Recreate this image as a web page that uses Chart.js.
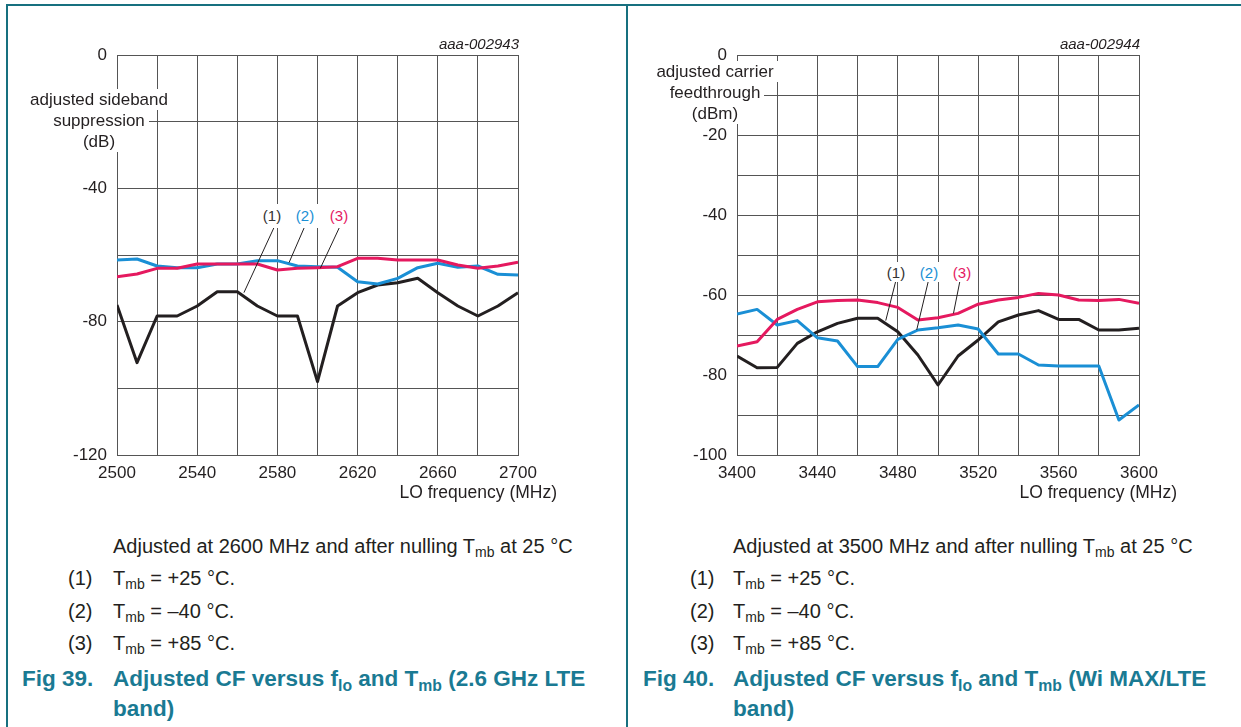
<!DOCTYPE html>
<html>
<head>
<meta charset="utf-8">
<script src="https://cdn.jsdelivr.net/npm/chart.js@4.4.0/dist/chart.umd.min.js"></script>
<style>
  html, body { margin: 0; padding: 0; background: #fff; }
  body { width: 1241px; height: 727px; position: relative; overflow: hidden; font-family: 'Liberation Sans', Arial, sans-serif; color: #231f20; }
  .vline { position: absolute; width: 2px; background: #17707f; }
  .hline { position: absolute; height: 2px; background: #17707f; }
  canvas { position: absolute; }
  .ytitle { position: absolute; font-size: 17px; line-height: 21px; text-align: center; }
  .ytitle span { display: block; width: fit-content; margin: 0 auto; background: #fff; padding: 0 4px; }
  .code { position: absolute; font-size: 15px; font-style: italic; text-align: right; line-height: 18px; }
  .xtitle { position: absolute; font-size: 17.5px; text-align: right; line-height: 20px; }
  .lblbox { position: absolute; background: #fff; }
  .lbl { position: absolute; font-size: 15px; line-height: 18px; transform: translate(-50%, -50%); white-space: nowrap; }
  .cap { position: absolute; font-size: 20px; line-height: 22px; white-space: nowrap; }
  .cap sub, .fig sub { font-size: 0.7em; vertical-align: -0.3em; line-height: 0; }
  .fig { position: absolute; font-size: 22.5px; font-weight: bold; color: #1a7a93; line-height: 30px; white-space: nowrap; }
</style>
</head>
<body>
<div class="hline" style="left:6px; top:4px; width:1235px;"></div>
<div class="vline" style="left:6px; top:4px; height:723px;"></div>
<div class="vline" style="left:626px; top:4px; height:723px;"></div>

<canvas id="c1" width="620" height="500" style="left:0px; top:0px;"></canvas>
<canvas id="c2" width="600" height="500" style="left:627px; top:0px;"></canvas>

<div class="ytitle" style="left:0px; top:89px; width:198px;"><span>adjusted sideband</span><span>suppression</span><span>(dB)</span></div>
<div class="ytitle" style="left:615px; top:61px; width:200px;"><span>adjusted carrier</span><span>feedthrough</span><span>(dBm)</span></div>

<div class="code" style="left:400px; top:35px; width:119px;">aaa-002943</div>
<div class="code" style="left:1020px; top:35px; width:120px;">aaa-002944</div>

<div class="xtitle" style="left:357px; top:482px; width:200px;">LO frequency (MHz)</div>
<div class="xtitle" style="left:977px; top:482px; width:200px;">LO frequency (MHz)</div>

<div class="lblbox" style="left:262px; top:204px; width:88px; height:24px;"></div>
<div class="lbl" style="left:272px; top:216px; color:#333;">(1)</div>
<div class="lbl" style="left:305px; top:216px; color:#1a8fd5;">(2)</div>
<div class="lbl" style="left:339px; top:216px; color:#e5195f;">(3)</div>

<div class="lblbox" style="left:885px; top:262px; width:87px; height:20px;"></div>
<div class="lbl" style="left:896px; top:273px; color:#333;">(1)</div>
<div class="lbl" style="left:929px; top:273px; color:#1a8fd5;">(2)</div>
<div class="lbl" style="left:962px; top:273px; color:#e5195f;">(3)</div>

<div class="cap" style="left:113px; top:535px;">Adjusted at 2600 MHz and after nulling T<sub>mb</sub> at 25 °C</div>
<div class="cap" style="left:68px; top:567px;">(1)</div><div class="cap" style="left:113px; top:567px;">T<sub>mb</sub> = +25 °C.</div>
<div class="cap" style="left:68px; top:600px;">(2)</div><div class="cap" style="left:113px; top:600px;">T<sub>mb</sub> = –40 °C.</div>
<div class="cap" style="left:68px; top:632px;">(3)</div><div class="cap" style="left:113px; top:632px;">T<sub>mb</sub> = +85 °C.</div>
<div class="fig" style="left:22px; top:664px;">Fig 39.</div>
<div class="fig" style="left:113px; top:664px;">Adjusted CF versus f<sub>lo</sub> and T<sub>mb</sub> (2.6 GHz LTE<br>band)</div>

<div class="cap" style="left:733px; top:535px;">Adjusted at 3500 MHz and after nulling T<sub>mb</sub> at 25 °C</div>
<div class="cap" style="left:690px; top:567px;">(1)</div><div class="cap" style="left:733px; top:567px;">T<sub>mb</sub> = +25 °C.</div>
<div class="cap" style="left:690px; top:600px;">(2)</div><div class="cap" style="left:733px; top:600px;">T<sub>mb</sub> = –40 °C.</div>
<div class="cap" style="left:690px; top:632px;">(3)</div><div class="cap" style="left:733px; top:632px;">T<sub>mb</sub> = +85 °C.</div>
<div class="fig" style="left:643px; top:664px;">Fig 40.</div>
<div class="fig" style="left:733px; top:664px;">Adjusted CF versus f<sub>lo</sub> and T<sub>mb</sub> (Wi MAX/LTE<br>band)</div>

<script>
// ---- Fig 39 data (2.6 GHz LTE band) ----
const freq1 = [2500, 2510, 2520, 2530, 2540, 2550, 2560, 2570, 2580, 2590, 2600, 2610, 2620, 2630, 2640, 2650, 2660, 2670, 2680, 2690, 2700];
const sb_p25 = [-75, -92.3, -78.3, -78.3, -75.3, -71, -71, -75.3, -78.3, -78.3, -98, -75.3, -71.3, -69, -68.3, -67, -71.3, -75.3, -78.3, -75.3, -71.3];
const sb_m40 = [-61.5, -61.2, -63.3, -63.8, -63.8, -62.7, -62.7, -61.7, -61.7, -63.3, -63.5, -63.7, -68, -68.7, -67, -63.8, -62.5, -63.7, -63.3, -65.8, -66];
const sb_p85 = [-66.5, -65.7, -64, -64, -62.7, -62.7, -62.7, -62.7, -64.5, -64, -63.8, -63.5, -61, -61, -61.5, -61.5, -61.5, -63, -64, -63.3, -62.2];
const xTicks1 = [2500, 2540, 2580, 2620, 2660, 2700];
const yTicks1 = [0, -40, -80, -120];
const leaders1 = [
  { from: [2578.2, -51.9], to: [2563.3, -71.3] },
  { from: [2593.3, -51.9], to: [2585.8, -62.3] },
  { from: [2610.8, -51.9], to: [2601.4, -64.0] }
];

// ---- Fig 40 data (WiMAX/LTE band) ----
const freq2 = [3400, 3410, 3420, 3430, 3440, 3450, 3460, 3470, 3480, 3490, 3500, 3510, 3520, 3530, 3540, 3550, 3560, 3570, 3580, 3590, 3600];
const cf_p25 = [-75.25, -78.2, -78.1, -72.1, -69.2, -67.1, -65.8, -65.8, -69.2, -75, -82.5, -75.25, -71.25, -66.7, -65, -63.9, -66.1, -66.1, -68.75, -68.75, -68.3];
const cf_m40 = [-64.75, -63.6, -67.5, -66.4, -70.7, -71.5, -77.9, -77.9, -71.1, -68.75, -68.2, -67.5, -68.5, -74.75, -74.75, -77.5, -77.75, -77.75, -77.75, -91.25, -87.5];
const cf_p85 = [-72.75, -71.7, -66.1, -63.6, -61.7, -61.4, -61.25, -61.9, -63.1, -66.25, -65.7, -64.6, -62.3, -61.25, -60.6, -59.6, -60, -61.25, -61.4, -61.1, -62.1];
const xTicks2 = [3400, 3440, 3480, 3520, 3560, 3600];
const yTicks2 = [0, -20, -40, -60, -80, -100];
const leaders2 = [
  { from: [3479.0, -56.5], to: [3474.0, -66.4] },
  { from: [3495.2, -56.5], to: [3489.4, -68.75] },
  { from: [3510.9, -56.5], to: [3507.7, -64.6] }
];

const COL_BLACK = '#231f20', COL_BLUE = '#1a8fd5', COL_RED = '#e5195f';
const GRID = '#555555';
const FONT = { family: "'Liberation Sans', Arial, sans-serif", size: 17 };

const leaderPlugin = {
  id: 'leaders',
  afterDatasetsDraw(chart, args, opts) {
    const { ctx, scales: { x, y } } = chart;
    ctx.save();
    ctx.strokeStyle = COL_BLACK;
    ctx.lineWidth = 1;
    (opts.lines || []).forEach(l => {
      ctx.beginPath();
      ctx.moveTo(x.getPixelForValue(l.from[0]), y.getPixelForValue(l.from[1]));
      ctx.lineTo(x.getPixelForValue(l.to[0]), y.getPixelForValue(l.to[1]));
      ctx.stroke();
    });
    ctx.restore();
  }
};

function pts(xs, ys) { return xs.map((v, i) => ({ x: v, y: ys[i] })); }

function ds(label, xs, ys, color) {
  return { label, data: pts(xs, ys), borderColor: color, backgroundColor: color, borderWidth: 3,
           pointRadius: 0, tension: 0, borderJoinStyle: 'round', fill: false };
}

function makeChart(id, cfg) {
  return new Chart(document.getElementById(id), {
    type: 'line',
    data: { datasets: [
      ds('(3) Tmb = +85 °C', cfg.xs, cfg.s3, COL_RED),
      ds('(2) Tmb = -40 °C', cfg.xs, cfg.s2, COL_BLUE),
      ds('(1) Tmb = +25 °C', cfg.xs, cfg.s1, COL_BLACK)
    ] },
    plugins: [leaderPlugin],
    options: {
      responsive: false,
      animation: false,
      devicePixelRatio: 1,
      layout: { padding: { top: 55, right: cfg.padRight, bottom: 0, left: 0 } },
      plugins: { legend: { display: false }, tooltip: { enabled: false }, leaders: { lines: cfg.leaders } },
      scales: {
        x: {
          type: 'linear', min: cfg.xmin, max: cfg.xmax,
          afterFit: s => { s.height = 45; },
          grid: { color: GRID, lineWidth: 1, drawTicks: false },
          border: { color: GRID, width: 1 },
          ticks: { stepSize: 20, autoSkip: false, maxRotation: 0, padding: 8, color: COL_BLACK, font: FONT,
                   callback: v => cfg.xTicks.includes(v) ? String(v) : '' }
        },
        y: {
          type: 'linear', min: cfg.ymin, max: 0,
          afterFit: s => { s.width = cfg.yWidth; },
          grid: { color: GRID, lineWidth: 1, drawTicks: false },
          border: { color: GRID, width: 1 },
          ticks: { stepSize: cfg.yStep, autoSkip: false, padding: 10, color: COL_BLACK, font: FONT,
                   callback: v => cfg.yTicks.includes(v) ? String(v) : '' }
        }
      }
    }
  });
}

makeChart('c1', { xs: freq1, s1: sb_p25, s2: sb_m40, s3: sb_p85, xmin: 2500, xmax: 2700, ymin: -120, yStep: 20,
                  xTicks: xTicks1, yTicks: yTicks1, leaders: leaders1, yWidth: 117, padRight: 102 });
makeChart('c2', { xs: freq2, s1: cf_p25, s2: cf_m40, s3: cf_p85, xmin: 3400, xmax: 3600, ymin: -100, yStep: 10,
                  xTicks: xTicks2, yTicks: yTicks2, leaders: leaders2, yWidth: 110, padRight: 88 });
</script>
</body>
</html>
